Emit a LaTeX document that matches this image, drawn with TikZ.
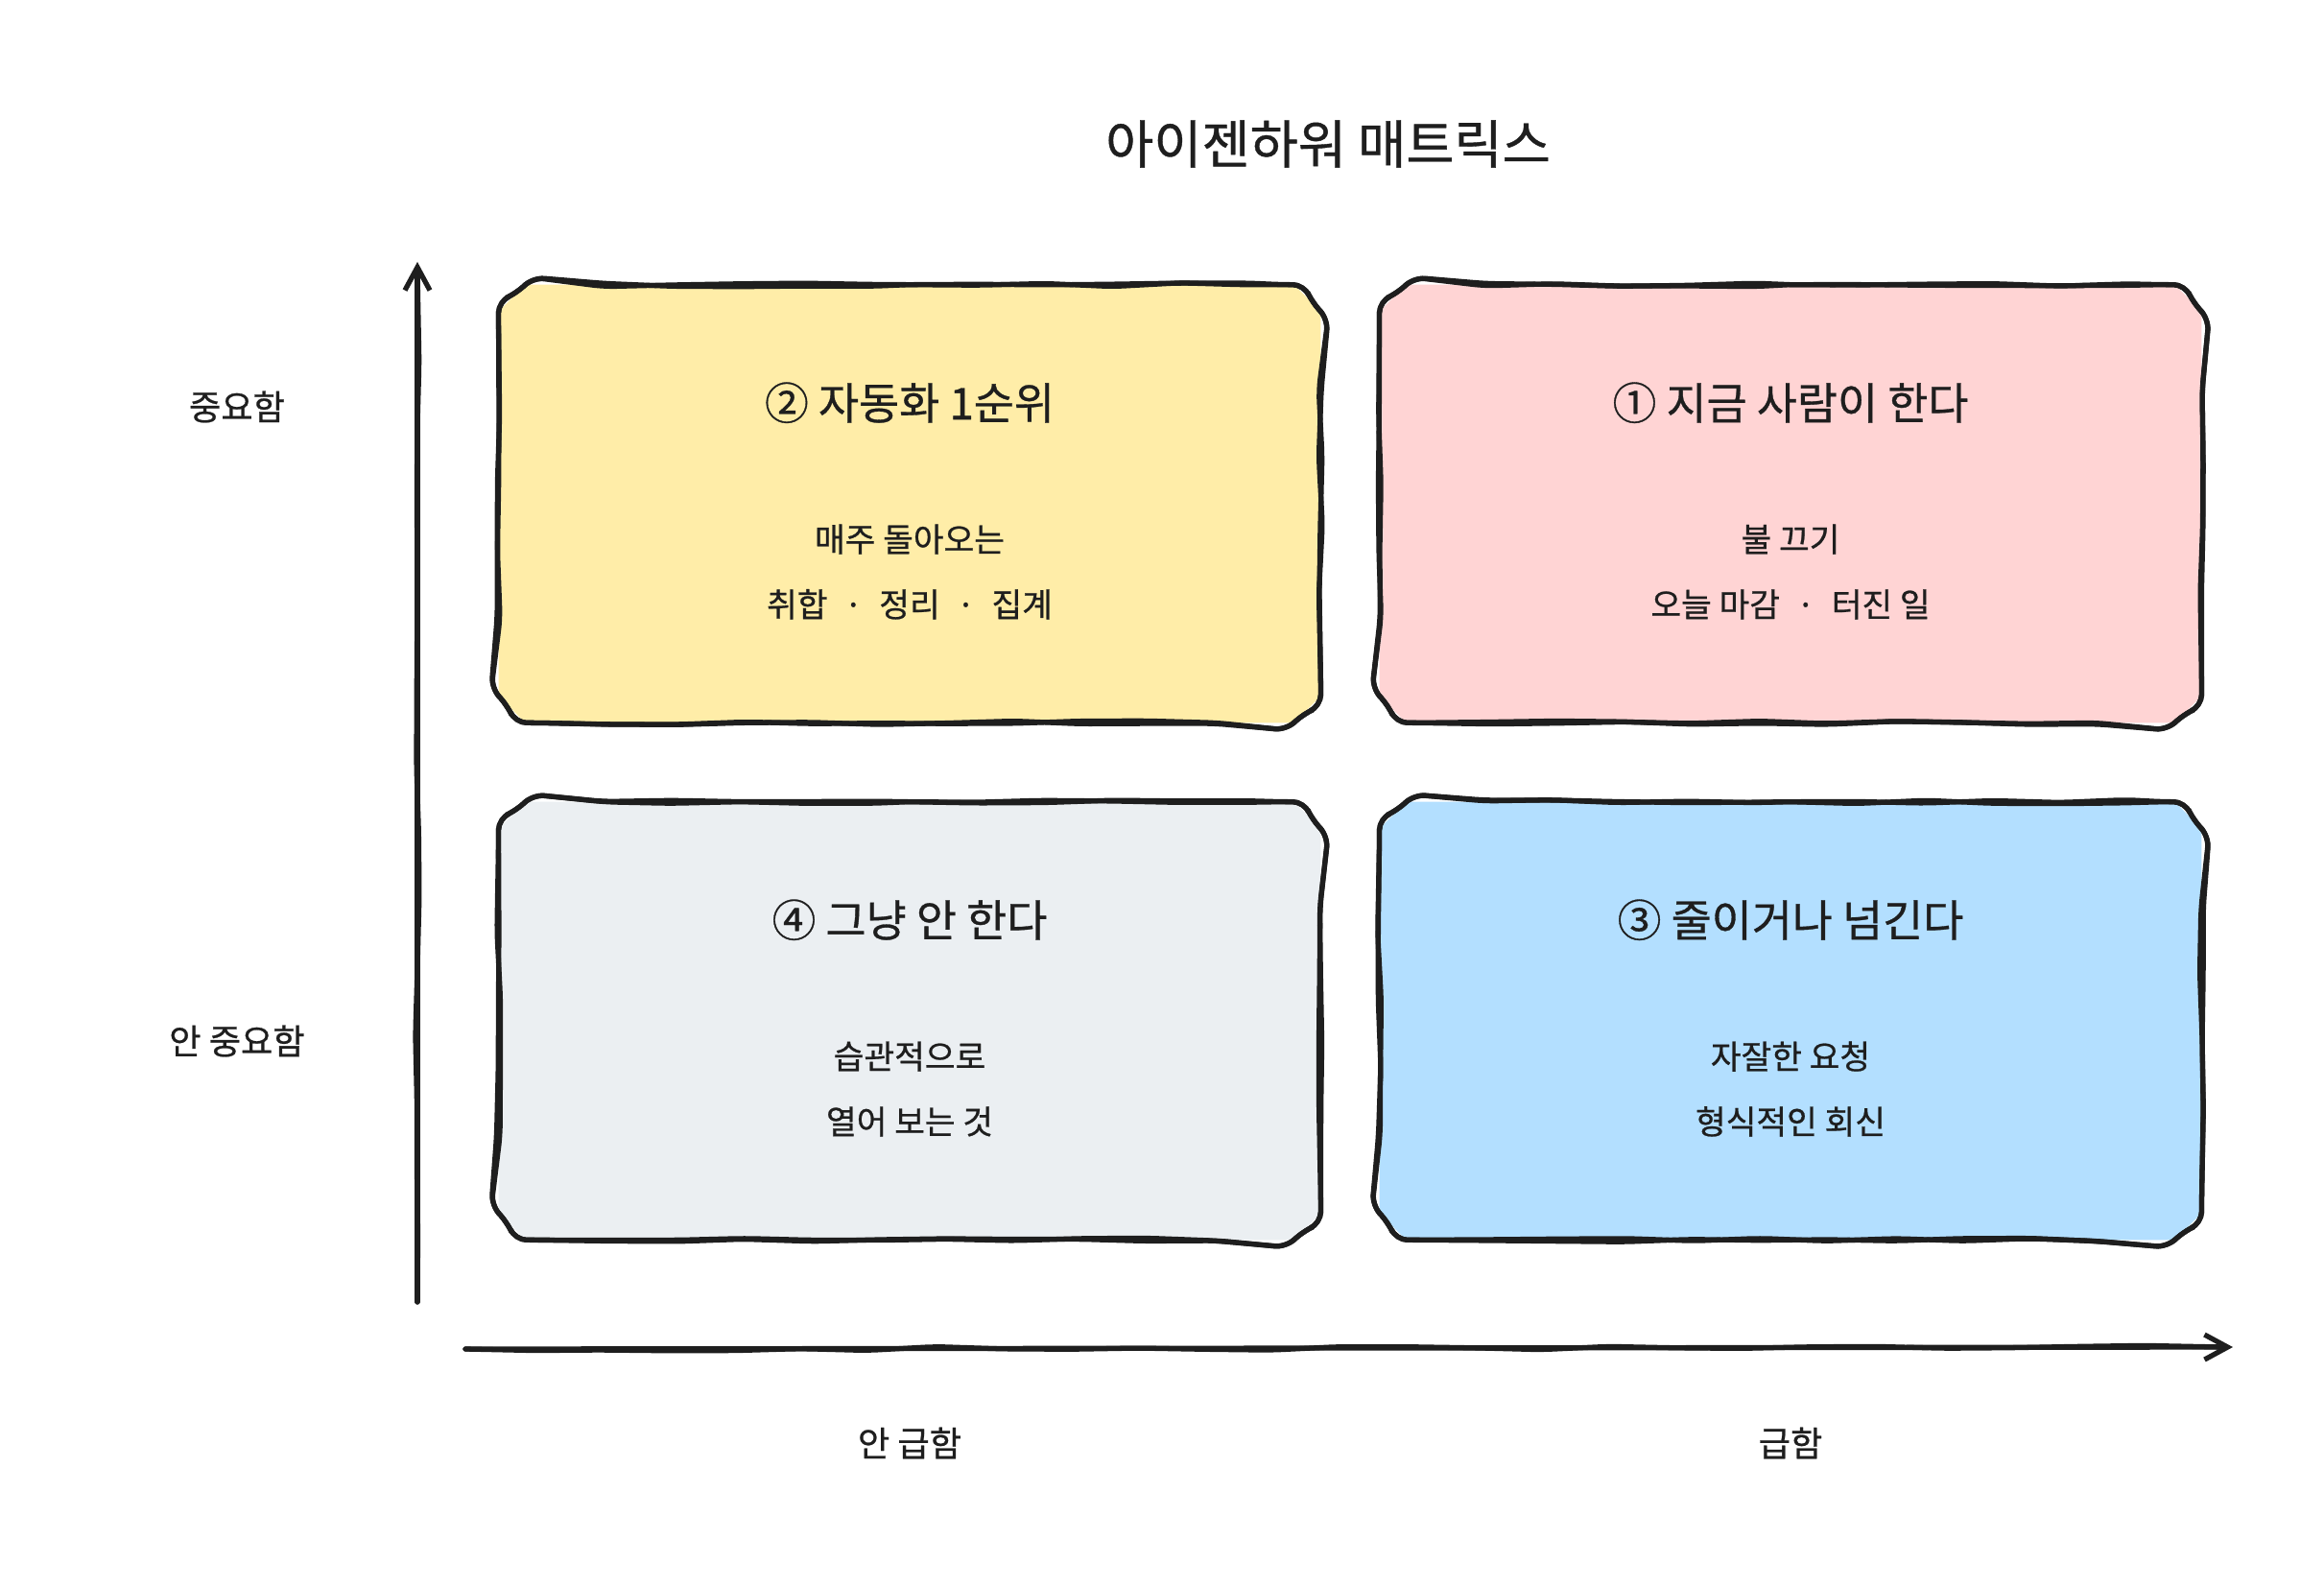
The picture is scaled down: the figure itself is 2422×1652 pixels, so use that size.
\documentclass[tikz,border=0pt]{standalone}
\usepackage{fontspec}
\setmainfont{Noto Sans CJK KR}[UprightFeatures={FakeBold=0.7}]
\usepackage{xcolor}
\definecolor{inkc}{RGB}{30,30,30}
\definecolor{urgentfill}{RGB}{255,212,212}
\definecolor{autofill}{RGB}{255,237,168}
\definecolor{skipfill}{RGB}{235,239,242}
\definecolor{handfill}{RGB}{179,223,255}
\usepackage{tikz}
\usetikzlibrary{calc,positioning,arrows.meta,decorations.pathmorphing}

\tikzset{
  ink/.style={draw=inkc, line width=1.5pt, line cap=round, line join=round},
  rough/.style={decorate, decoration={random steps, segment length=0.7cm, amplitude=0.6pt}, rounded corners=0.12cm},
  quad/.style={minimum width=8.55cm, minimum height=4.55cm, inner sep=0pt},
  headline/.style={font=\fontsize{15.5}{18}\selectfont, text=inkc},
  qtitle/.style={font=\fontsize{13}{15}\selectfont, text=inkc},
  qnote/.style={font=\fontsize{9.8}{19.3}\selectfont, align=center, text=inkc},
  axislabel/.style={font=\fontsize{10.3}{12}\selectfont, text=inkc},
  tip/.style={-{Straight Barb[length=0.24cm, width=0.26cm]}},
}

\begin{document}
\begin{tikzpicture}[x=0.01cm, y=-0.01cm]
  \pgfmathsetseed{11}
  % Canvas
  \useasboundingbox[fill=white] (0,0) rectangle (2422,1652);
  % Parameters
  \def\colL{948}   % left column
  \def\colR{1866}  % right column
  \def\rowT{525}   % top row
  \def\rowB{1064}  % bottom row
  \def\ch{28}      % corner cut
  % Title
  \node[headline] (title) at (1384,150) {아이젠하워 매트릭스};
  % Quadrants
  \node[quad] (q1) at (\colR,\rowT) {};
  \node[quad] (q2) at (\colL,\rowT) {};
  \node[quad] (q3) at (\colR,\rowB) {};
  \node[quad] (q4) at (\colL,\rowB) {};
  % Fill and rough outlines (two passes)
  \foreach \q/\c in {q1/urgentfill,q2/autofill,q3/handfill,q4/skipfill} {
    \fill[\c] ($(\q.north west)+(\ch,0)$) -- ($(\q.north east)+(-\ch,0)$)
      -- ($(\q.north east)+(0,\ch)$) -- ($(\q.south east)+(0,-\ch)$)
      -- ($(\q.south east)+(-\ch,0)$) -- ($(\q.south west)+(\ch,0)$)
      -- ($(\q.south west)+(0,-\ch)$) -- ($(\q.north west)+(0,\ch)$) -- cycle;
    \foreach \pass in {1,2}
      \draw[ink, rough] (\q.north) -- ($(\q.north east)+(-\ch,0)$)
        -- ($(\q.north east)+(0,\ch)$) -- ($(\q.south east)+(0,-\ch)$)
        -- ($(\q.south east)+(-\ch,0)$) -- ($(\q.south west)+(\ch,0)$)
        -- ($(\q.south west)+(0,-\ch)$) -- ($(\q.north west)+(0,\ch)$)
        -- ($(\q.north west)+(\ch,0)$) -- (\q.north);
  }
  % Quadrant titles
  \node[qtitle] (q1t) at ([yshift=-1.23cm]q1.north) {① 지금 사람이 한다};
  \node[qtitle] (q2t) at ([yshift=-1.23cm]q2.north) {② 자동화 1순위};
  \node[qtitle] (q3t) at ([yshift=-1.23cm]q3.north) {③ 줄이거나 넘긴다};
  \node[qtitle] (q4t) at ([yshift=-1.23cm]q4.north) {④ 그냥 안 한다};
  % Quadrant notes
  \node[qnote] (q1n) at ([yshift=-0.71cm]q1.center) {불 끄기\\오늘 마감\enspace·\enspace 터진 일};
  \node[qnote] (q2n) at ([yshift=-0.71cm]q2.center) {매주 돌아오는\\취합\enspace·\enspace 정리\enspace·\enspace 집계};
  \node[qnote] (q3n) at ([yshift=-0.71cm]q3.center) {자잘한 요청\\형식적인 회신};
  \node[qnote] (q4n) at ([yshift=-0.71cm]q4.center) {습관적으로\\열어 보는 것};
  % Axes
  \coordinate (ybot) at (435,1357);
  \coordinate (ytop) at (435,273);
  \coordinate (xleft) at (485,1406);
  \coordinate (xright) at (2327,1404);
  \draw[ink, tip] (ybot) -- (ytop);
  \draw[ink, rough] (ybot) -- ([yshift=-0.1cm]ytop);
  \draw[ink, tip] (xleft) -- (xright);
  \draw[ink, rough] (xleft) -- ([xshift=-0.1cm]xright);
  % Axis labels
  \node[axislabel] (imp)   at (247,424)  {중요함};
  \node[axislabel] (unimp) at (247,1085) {안 중요함};
  \node[axislabel] (nurg)  at (\colL,1504) {안 급함};
  \node[axislabel] (urg)   at (\colR,1504) {급함};
\end{tikzpicture}
\end{document}
